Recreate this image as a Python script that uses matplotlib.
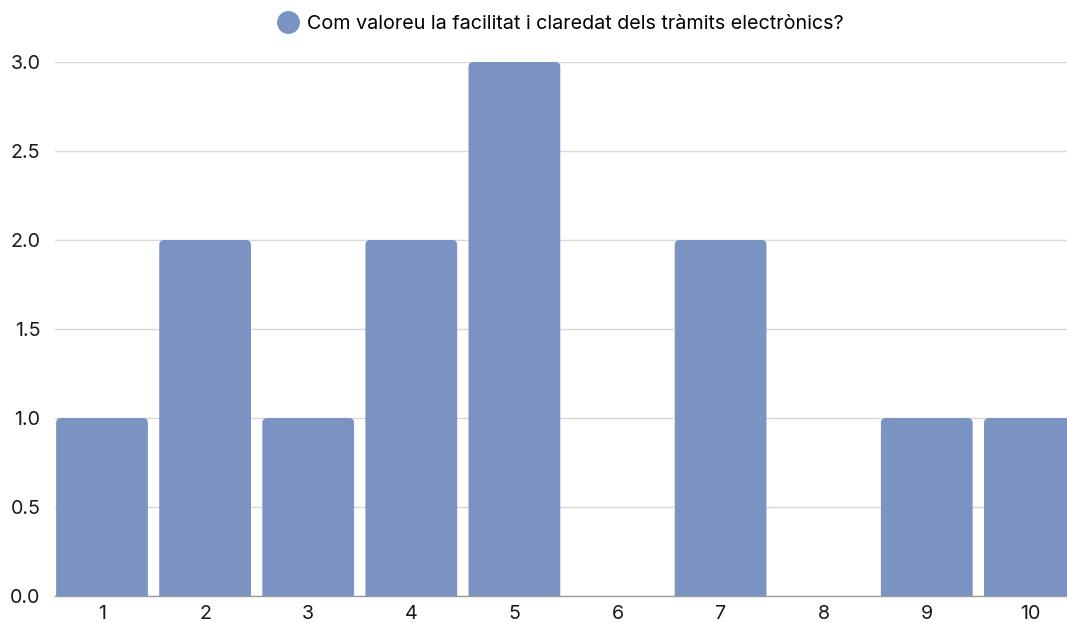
import matplotlib
matplotlib.use("Agg")
import matplotlib.pyplot as plt
from matplotlib.patches import FancyBboxPatch
from matplotlib.lines import Line2D

categories = ["1", "2", "3", "4", "5", "6", "7", "8", "9", "10"]
values = [1, 2, 1, 2, 3, 0, 2, 0, 1, 1]
series_name = "Com valoreu la facilitat i claredat dels tràmits electrònics?"
yticks = [0.0, 0.5, 1.0, 1.5, 2.0, 2.5, 3.0]

plt.rcParams['font.family'] = ['Inter', 'DejaVu Sans']
color = "#7b93c3"

W, H = 1067, 623
fig = plt.figure(figsize=(W / 100, H / 100), dpi=100)
ax = fig.add_axes([55 / W, 1 - 596 / H, (1067 - 55) / W, (596 - 62) / H])

x = list(range(1, len(categories) + 1))
bw = 0.89
bars = ax.bar(x, values, width=bw, color=color, alpha=0)

xlim = (0.544, 10.36)
ylim = (0, 3.0)
ax.set_xlim(*xlim)
ax.set_ylim(*ylim)

# rounded tops
xpp = (xlim[1] - xlim[0]) / (1067 - 55)
ypp = (ylim[1] - ylim[0]) / (596 - 62)
r = 5 * xpp
for b in bars:
    h = b.get_height()
    if h <= 0:
        continue
    p = FancyBboxPatch((b.get_x(), -6 * ypp), b.get_width(), h + 6 * ypp,
                       boxstyle=f"round,pad=0,rounding_size={r}",
                       mutation_aspect=ypp / xpp, facecolor=color,
                       edgecolor="none", zorder=2, clip_on=True)
    p.set_clip_box(ax.bbox)
    ax.add_patch(p)

ax.set_yticks(yticks)
ax.set_yticklabels([f"{v:.1f}" for v in yticks])
ax.set_xticks(x)
ax.set_xticklabels(categories)
ax.yaxis.grid(True, color="#d9d9d9", linewidth=1)
ax.set_axisbelow(True)
for s in ["top", "right", "left"]:
    ax.spines[s].set_visible(False)
ax.spines["bottom"].set_color("#9a9a9a")
ax.spines["bottom"].set_linewidth(1)
ax.spines["bottom"].set_zorder(3)
ax.tick_params(axis="both", length=0, labelsize=14.2, colors="#1a1a1a")
ax.tick_params(axis="y", pad=10.5)
ax.tick_params(axis="x", pad=6.5)

handle = Line2D([], [], marker="o", linestyle="none", markersize=15.5,
                markerfacecolor=color, markeredgecolor=color)
fig.legend([handle], [series_name], loc="center", bbox_to_anchor=(0.526, 1 - 24 / H),
           frameon=False, fontsize=14.2, handletextpad=0.45, handlelength=1.0,
           borderaxespad=0, borderpad=0)

fig.savefig("out.png", dpi=100)
